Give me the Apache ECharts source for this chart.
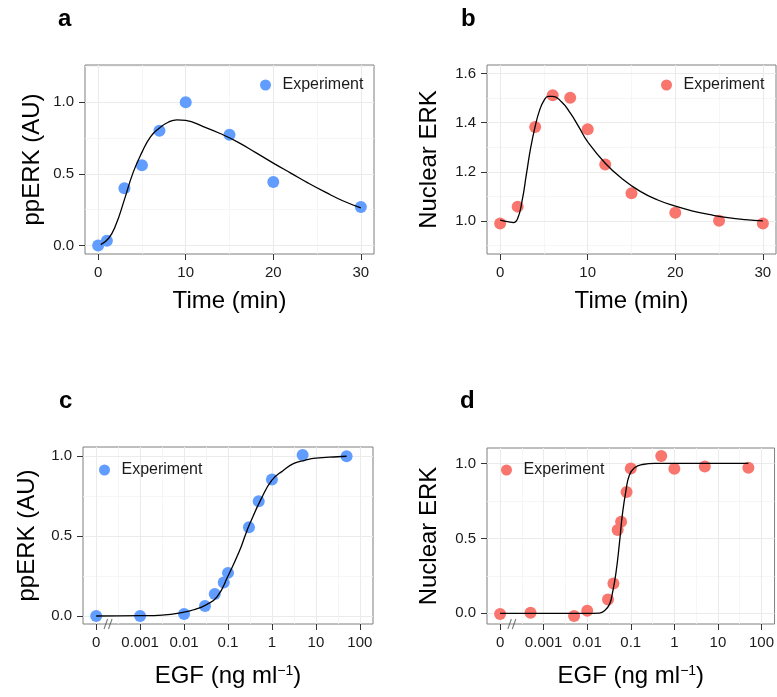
<!DOCTYPE html>
<html><head><meta charset="utf-8">
<script src="https://cdn.jsdelivr.net/npm/echarts@6/dist/echarts.min.js"></script>
<style>html,body{margin:0;padding:0;background:#fff}#c{width:777px;height:697px}</style>
</head><body><div id="c"></div>
<script>
// ---------- Panel a: ppERK vs time ----------
const timeA = [0, 1, 3, 5, 7, 10, 15, 20, 30];
const ppErkA = [0.0, 0.032, 0.40, 0.56, 0.80, 1.0, 0.773, 0.443, 0.269];
const modelTimeA = [0.3, 1.2, 2, 3, 4, 5, 6, 7, 8, 9, 10, 12, 14, 16, 18, 20, 22, 24, 26, 28, 30];
const modelA = [0.005, 0.05, 0.14, 0.32, 0.51, 0.65, 0.76, 0.82, 0.86, 0.877, 0.873, 0.83, 0.78, 0.72, 0.648, 0.575, 0.505, 0.435, 0.37, 0.31, 0.262];

// ---------- Panel b: nuclear ERK vs time ----------
const timeB = [0, 2, 4, 6, 8, 10, 12, 15, 20, 25, 30];
const nucB = [0.989, 1.058, 1.382, 1.512, 1.502, 1.373, 1.23, 1.112, 1.033, 1.0, 0.989];
const modelTimeB = [0, 1, 1.5, 2, 2.5, 3, 3.5, 4, 4.5, 5, 5.5, 6, 7, 8, 9, 10, 12, 14, 16, 18, 20, 22, 24, 26, 28, 30];
const modelB = [1.003, 0.996, 0.993, 1.01, 1.08, 1.19, 1.30, 1.385, 1.45, 1.49, 1.507, 1.507, 1.485, 1.44, 1.382, 1.322, 1.235, 1.17, 1.12, 1.085, 1.06, 1.04, 1.025, 1.013, 1.005, 1.0];

// ---------- Panel c: ppERK vs EGF ----------
const egfC = [0, 0.001, 0.01, 0.03, 0.05, 0.08, 0.1, 0.3, 0.5, 1, 5, 50];
const ppErkC = [0.0, 0.0, 0.013, 0.063, 0.138, 0.21, 0.27, 0.556, 0.718, 0.854, 1.008, 1.0];
const modelEgfC = [0, 0.001, 0.00316, 0.01, 0.0178, 0.0316, 0.0562, 0.1, 0.178, 0.251, 0.316, 0.562, 1, 1.78, 3.16, 5.62, 10, 31.6, 50];
const modelC = [0, 0.002, 0.006, 0.024, 0.042, 0.07, 0.12, 0.25, 0.40, 0.51, 0.58, 0.73, 0.85, 0.91, 0.955, 0.975, 0.988, 0.997, 1.0];

// ---------- Panel d: nuclear ERK vs EGF ----------
const egfD = [0, 0.0005, 0.005, 0.01, 0.03, 0.04, 0.05, 0.06, 0.08, 0.1, 0.5, 1, 5, 50];
const nucD = [-0.004, 0.004, -0.018, 0.018, 0.093, 0.199, 0.556, 0.611, 0.81, 0.967, 1.05, 0.965, 0.98, 0.971];
const modelEgfD = [0, 0.001, 0.01, 0.0191, 0.0245, 0.0324, 0.038, 0.0457, 0.055, 0.0646, 0.0776, 0.0923, 0.120, 0.186, 0.355, 50];
const modelD = [0, 0, 0, 0.002, 0.015, 0.06, 0.137, 0.27, 0.47, 0.667, 0.82, 0.92, 0.97, 0.993, 1.0, 1.0];

// ---------- Tick labels ----------
const timeTicks = [0, 10, 20, 30];
const ticksAUY = [0, 0.5, 1.0];
const ticksNucBY = [1.0, 1.2, 1.4, 1.6];
const egfTicks = [0, 0.001, 0.01, 0.1, 1, 10, 100];
const egfTickLabels = ['0', '0.001', '0.01', '0.1', '1', '10', '100'];

// ---------- styling ----------
const FONT = "'Liberation Sans', Arial, Helvetica, sans-serif";
const BLUE = '#619CFF', RED = '#F8766D';
const MAJOR = '#EBEBEB', MINOR = '#F4F4F4';
const ZERO_DECADE = -4;     // pseudo-log position used for concentration 0
const BREAK_AT = -3.73;     // position of the axis-break mark

const egfPos = c => c === 0 ? ZERO_DECADE : Math.log10(c);
const pairs = (xs, ys, f) => xs.map((x, i) => [f ? f(x) : x, ys[i]]);
const mids = arr => arr.slice(0, -1).map((v, i) => (v + arr[i + 1]) / 2);

function gridMarks(xMaj, xMin, yMaj, yMin) {
  const item = (k, v, c, w) => ({ [k]: v, lineStyle: { color: c, width: w, type: 'solid' } });
  return {
    silent: true, symbol: ['none', 'none'], z: 1, animation: false,
    label: { show: false }, emphasis: { disabled: true },
    lineStyle: { type: 'solid' },
    data: [
      ...xMin.map(v => item('xAxis', v, MINOR, 0.8)),
      ...yMin.map(v => item('yAxis', v, MINOR, 0.8)),
      ...xMaj.map(v => item('xAxis', v, MAJOR, 1.1)),
      ...yMaj.map(v => item('yAxis', v, MAJOR, 1.1)),
    ]
  };
}

const labelStyle = { fontSize: 15, color: '#1a1a1a', fontFamily: FONT, margin: 11 };
const tickStyle = { show: true, length: 6, lineStyle: { color: '#333', width: 1 } };

function xAx(i, min, max, ticks, fmt, name, gap, nameStyle) {
  return {
    type: 'value', gridIndex: i, min, max,
    name, nameLocation: 'middle', nameGap: gap,
    nameTextStyle: Object.assign({ fontSize: 24, color: '#000', fontFamily: FONT }, nameStyle || {}),
    axisLine: { show: false, onZero: false },
    splitLine: { show: false },
    axisTick: Object.assign({ customValues: ticks }, tickStyle),
    axisLabel: Object.assign({ customValues: ticks, formatter: fmt }, labelStyle)
  };
}
function yAx(i, min, max, ticks, fmt, name, gap) {
  return {
    type: 'value', gridIndex: i, min, max,
    name, nameLocation: 'middle', nameGap: gap,
    nameTextStyle: { fontSize: 24, color: '#000', fontFamily: FONT },
    axisLine: { show: false, onZero: false },
    splitLine: { show: false },
    axisTick: Object.assign({ customValues: ticks }, tickStyle),
    axisLabel: Object.assign({ customValues: ticks, formatter: fmt }, labelStyle)
  };
}

const fmt1 = v => v.toFixed(1);
const fmtInt = v => String(Math.round(v));
const fmtEgf = v => {
  const i = egfTicks.findIndex(t => Math.abs(egfPos(t) - v) < 1e-6);
  return i >= 0 ? egfTickLabels[i] : '';
};
const egfPosTicks = egfTicks.map(egfPos);
const egfName = '{n|EGF (ng ml}{s|−1}{n|)}';
const egfNameStyle = { rich: { n: { fontSize: 24, fontFamily: FONT, color: '#000' }, s: { fontSize: 14, fontFamily: FONT, color: '#000', verticalAlign: 'top' } } };

const yRangeA = [-0.06, 1.26], yRangeB = [0.865, 1.635], yRangeC = [-0.05, 1.058], yRangeD = [-0.071, 1.103];

function curve(i, data, marks) {
  return {
    type: 'line', name: 'Model', xAxisIndex: i, yAxisIndex: i, data,
    showSymbol: false, smooth: 0.5, silent: true, z: 3,
    lineStyle: { color: '#000', width: 1.3 }, markLine: marks
  };
}
function points(i, data, color) {
  return {
    type: 'scatter', name: 'Experiment', xAxisIndex: i, yAxisIndex: i, data,
    symbolSize: 12, itemStyle: { color, opacity: 1 }, z: 2, silent: true
  };
}
function breakMark(i, yMin) {
  return {
    type: 'scatter', name: 'break', xAxisIndex: i, yAxisIndex: i,
    data: [[BREAK_AT, yMin]], symbol: 'path://M0,12 L4,0 M5,12 L9,0', symbolSize: [8, 10],
    itemStyle: { color: 'rgba(0,0,0,0)', borderColor: '#555', borderWidth: 1.2 },
    z: 4, silent: true, clip: false
  };
}
function legend(left, top, color) {
  return {
    data: [{ name: 'Experiment', itemStyle: { color } }], left, top, padding: 0,
    icon: 'circle', itemWidth: 24, itemHeight: 11, selectedMode: false,
    textStyle: { fontSize: 16, color: '#1a1a1a', fontFamily: FONT }
  };
}
const letter = (t, x, y) => ({ type: 'text', left: x, top: y, style: { text: t, font: 'bold 24px ' + FONT, fill: '#000' } });

const chart = echarts.init(document.getElementById('c'), null, { renderer: 'canvas', width: 777, height: 697 });
const gridBase = { show: true, borderColor: '#7F7F7F', borderWidth: 1, backgroundColor: '#fff', containLabel: false };

chart.setOption({
  animation: false,
  backgroundColor: '#fff',
  grid: [
    Object.assign({ left: 85, top: 65, width: 289, height: 189 }, gridBase),
    Object.assign({ left: 487, top: 65, width: 289, height: 189 }, gridBase),
    Object.assign({ left: 83, top: 447, width: 290, height: 177 }, gridBase),
    Object.assign({ left: 487, top: 448, width: 289, height: 176 }, gridBase),
  ],
  xAxis: [
    xAx(0, -1.5, 31.5, timeTicks, fmtInt, 'Time (min)', 35),
    xAx(1, -1.5, 31.5, timeTicks, fmtInt, 'Time (min)', 35),
    xAx(2, -4.3, 2.3, egfPosTicks, fmtEgf, egfName, 40, egfNameStyle),
    xAx(3, -4.3, 2.3, egfPosTicks, fmtEgf, egfName, 40, egfNameStyle),
  ],
  yAxis: [
    yAx(0, yRangeA[0], yRangeA[1], ticksAUY, fmt1, 'ppERK (AU)', 41),
    yAx(1, yRangeB[0], yRangeB[1], ticksNucBY, fmt1, 'Nuclear ERK', 46),
    yAx(2, yRangeC[0], yRangeC[1], ticksAUY, fmt1, 'ppERK (AU)', 44),
    yAx(3, yRangeD[0], yRangeD[1], ticksAUY, fmt1, 'Nuclear ERK', 46),
  ],
  legend: [legend(260, 77, BLUE), legend(661, 77, RED), legend(99, 462, BLUE), legend(501, 462, RED)],
  graphic: [letter('a', 58, 7), letter('b', 461, 7), letter('c', 59, 389), letter('d', 460, 389)],
  series: [
    points(0, pairs(timeA, ppErkA), BLUE),
    curve(0, pairs(modelTimeA, modelA), gridMarks(timeTicks, mids(timeTicks), ticksAUY, [0.25, 0.75, 1.25])),
    points(1, pairs(timeB, nucB), RED),
    curve(1, pairs(modelTimeB, modelB), gridMarks(timeTicks, mids(timeTicks), ticksNucBY, [0.9, 1.1, 1.3, 1.5])),
    points(2, pairs(egfC, ppErkC, egfPos), BLUE),
    curve(2, pairs(modelEgfC, modelC, egfPos), gridMarks(egfPosTicks, mids(egfPosTicks), ticksAUY, [0.25, 0.75])),
    breakMark(2, yRangeC[0]),
    points(3, pairs(egfD, nucD, egfPos), RED),
    curve(3, pairs(modelEgfD, modelD, egfPos), gridMarks(egfPosTicks, mids(egfPosTicks), ticksAUY, [0.25, 0.75])),
    breakMark(3, yRangeD[0]),
  ]
});
</script></body></html>
